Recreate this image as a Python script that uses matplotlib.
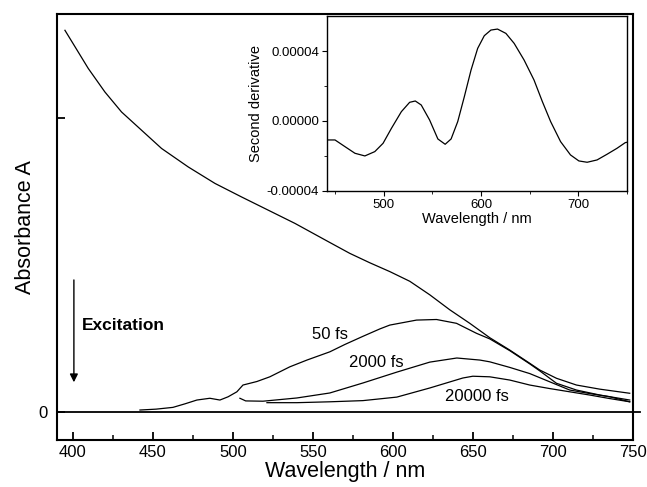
import matplotlib.pyplot as plt
from matplotlib.ticker import MultipleLocator, FixedLocator

plt.rcParams['font.family'] = ['Liberation Sans', 'DejaVu Sans']

# ground state absorbance
wl_gs = [395.0, 401.3, 409.6, 420.0, 430.4, 442.9, 455.4, 472.1, 488.8, 505.4,
         522.1, 538.8, 560.6, 573.1, 585.6, 598.1, 610.6, 623.1, 635.6, 648.1,
         660.6, 673.1, 685.6, 691.9, 702.3, 714.8, 729.4, 748.1]
abs_gs = [1.299, 1.243, 1.169, 1.089, 1.021, 0.959, 0.897, 0.834, 0.778, 0.732,
          0.687, 0.642, 0.577, 0.540, 0.508, 0.478, 0.445, 0.399, 0.348, 0.302,
          0.253, 0.211, 0.166, 0.143, 0.115, 0.092, 0.078, 0.064]

# 50 fs
wl_50 = [441.9, 452.0, 462.5, 470.0, 477.5, 485.6, 491.9, 497.0, 502.5, 506.3,
         515.0, 523.1, 535.6, 546.3, 560.6, 570.0, 581.4, 591.9, 598.1, 614.8,
         627.3, 639.8, 652.3, 660.6, 673.1, 685.6, 691.9, 702.3, 714.8, 729.4,
         748.1]
abs_50 = [0.007, 0.010, 0.016, 0.028, 0.041, 0.047, 0.041, 0.052, 0.069, 0.092,
          0.104, 0.120, 0.154, 0.177, 0.205, 0.230, 0.258, 0.283, 0.296, 0.313,
          0.315, 0.302, 0.268, 0.249, 0.209, 0.164, 0.140, 0.098, 0.075, 0.058,
          0.041]

# 2000 fs
wl_2000 = [504.4, 508.0, 518.8, 540.0, 560.6, 581.3, 602.5, 623.1, 640.0, 654.4,
           660.6, 673.1, 685.6, 698.1, 710.6, 723.1, 735.6, 748.1]
abs_2000 = [0.047, 0.038, 0.037, 0.048, 0.065, 0.099, 0.136, 0.170, 0.184, 0.177,
            0.171, 0.152, 0.131, 0.103, 0.075, 0.063, 0.052, 0.035]

# 20000 fs
wl_20000 = [521.3, 540.0, 560.6, 581.3, 602.5, 623.1, 643.8, 650.0, 660.6, 673.1,
            685.6, 698.1, 710.6, 723.1, 735.6, 748.1]
abs_20000 = [0.032, 0.032, 0.035, 0.039, 0.051, 0.082, 0.116, 0.122, 0.120, 0.109,
             0.092, 0.080, 0.069, 0.058, 0.046, 0.035]

# inset: second derivative
wl_d2 = [441.5, 450.0, 460.2, 470.5, 480.7, 490.9, 499.4, 508.0, 518.2, 526.7,
         532.5, 538.6, 547.2, 555.7, 563.2, 569.3, 576.1, 582.9, 589.8, 596.6,
         603.4, 610.2, 617.0, 625.6, 634.1, 644.3, 654.5, 663.1, 671.6, 681.8,
         692.0, 700.6, 709.1, 719.3, 729.5, 739.8, 748.3, 750.0]
d2 = [-1.086e-5, -1.086e-5, -1.467e-5, -1.848e-5, -2.0e-5, -1.752e-5, -1.276e-5,
      -0.419e-5, 0.533e-5, 1.067e-5, 1.143e-5, 0.914e-5, 0.057e-5, -1.029e-5,
      -1.333e-5, -1.029e-5, -0.038e-5, 1.390e-5, 2.914e-5, 4.152e-5, 4.876e-5,
      5.200e-5, 5.257e-5, 5.010e-5, 4.438e-5, 3.486e-5, 2.343e-5, 1.105e-5,
      -0.038e-5, -1.181e-5, -1.943e-5, -2.286e-5, -2.362e-5, -2.229e-5,
      -1.905e-5, -1.562e-5, -1.238e-5, -1.219e-5]

fig = plt.figure(figsize=(6.47, 4.87), dpi=100)
ax = fig.add_axes([0.088, 0.0965, 0.890, 0.8745])

lw = 0.9
ax.plot(wl_gs, abs_gs, color='black', lw=lw)
ax.plot(wl_50, abs_50, color='black', lw=lw)
ax.plot(wl_2000, abs_2000, color='black', lw=lw)
ax.plot(wl_20000, abs_20000, color='black', lw=lw)
ax.axhline(0, xmin=0, xmax=1.012, color='black', lw=1.3, clip_on=False)

ax.set_xlim(390, 750)
ax.set_ylim(-0.095, 1.354)
ax.xaxis.set_major_locator(MultipleLocator(50))
ax.xaxis.set_minor_locator(MultipleLocator(25))
ax.yaxis.set_major_locator(FixedLocator([0, 1.0]))
ax.set_yticklabels(['0', ''])
ax.tick_params(axis='both', which='major', direction='in', length=6, width=1.3,
               labelsize=12)
ax.tick_params(axis='y', which='major', pad=7)
ax.tick_params(axis='x', which='minor', direction='in', length=3.5, width=1.1)
for s in ax.spines.values():
    s.set_linewidth(1.5)

ax.set_xlabel('Wavelength / nm', fontsize=15.5, labelpad=1)
ax.set_ylabel('Absorbance A', fontsize=15.5)
ax.yaxis.set_label_coords(-0.036, 0.5)

ax.annotate('', xy=(400.6, 0.092), xytext=(400.6, 0.459),
            arrowprops=dict(arrowstyle='-|>', color='black', lw=1.0,
                            mutation_scale=12))
ax.text(405.5, 0.296, 'Excitation', fontsize=12.5, fontweight='bold',
        va='center', ha='left')
ax.text(560.6, 0.265, '50 fs', fontsize=12, ha='center', va='center')
ax.text(589.4, 0.167, '2000 fs', fontsize=12, ha='center', va='center')
ax.text(652.8, 0.054, '20000 fs', fontsize=12, ha='center', va='center')

# inset
ins = fig.add_axes([0.505, 0.608, 0.464, 0.359])
ins.plot(wl_d2, d2, color='black', lw=lw)
ins.set_xlim(441.5, 750)
ins.set_ylim(-4e-5, 6e-5)
ins.xaxis.set_major_locator(MultipleLocator(100))
ins.xaxis.set_minor_locator(MultipleLocator(50))
ins.yaxis.set_major_locator(FixedLocator([-4e-5, 0, 4e-5]))
ins.yaxis.set_minor_locator(FixedLocator([-2e-5, 2e-5]))
ins.set_yticklabels(['-0.00004', '0.00000', '0.00004'])
ins.tick_params(axis='both', which='major', direction='out', length=3.5,
                labelsize=9.5, pad=2)
ins.tick_params(axis='both', which='minor', direction='out', length=2)
ins.set_xlabel('Wavelength / nm', fontsize=10.5, labelpad=1)
ins.set_ylabel('Second derivative', fontsize=10.5, labelpad=3)
for s in ins.spines.values():
    s.set_linewidth(1.0)

fig.savefig('out.png', dpi=100)
